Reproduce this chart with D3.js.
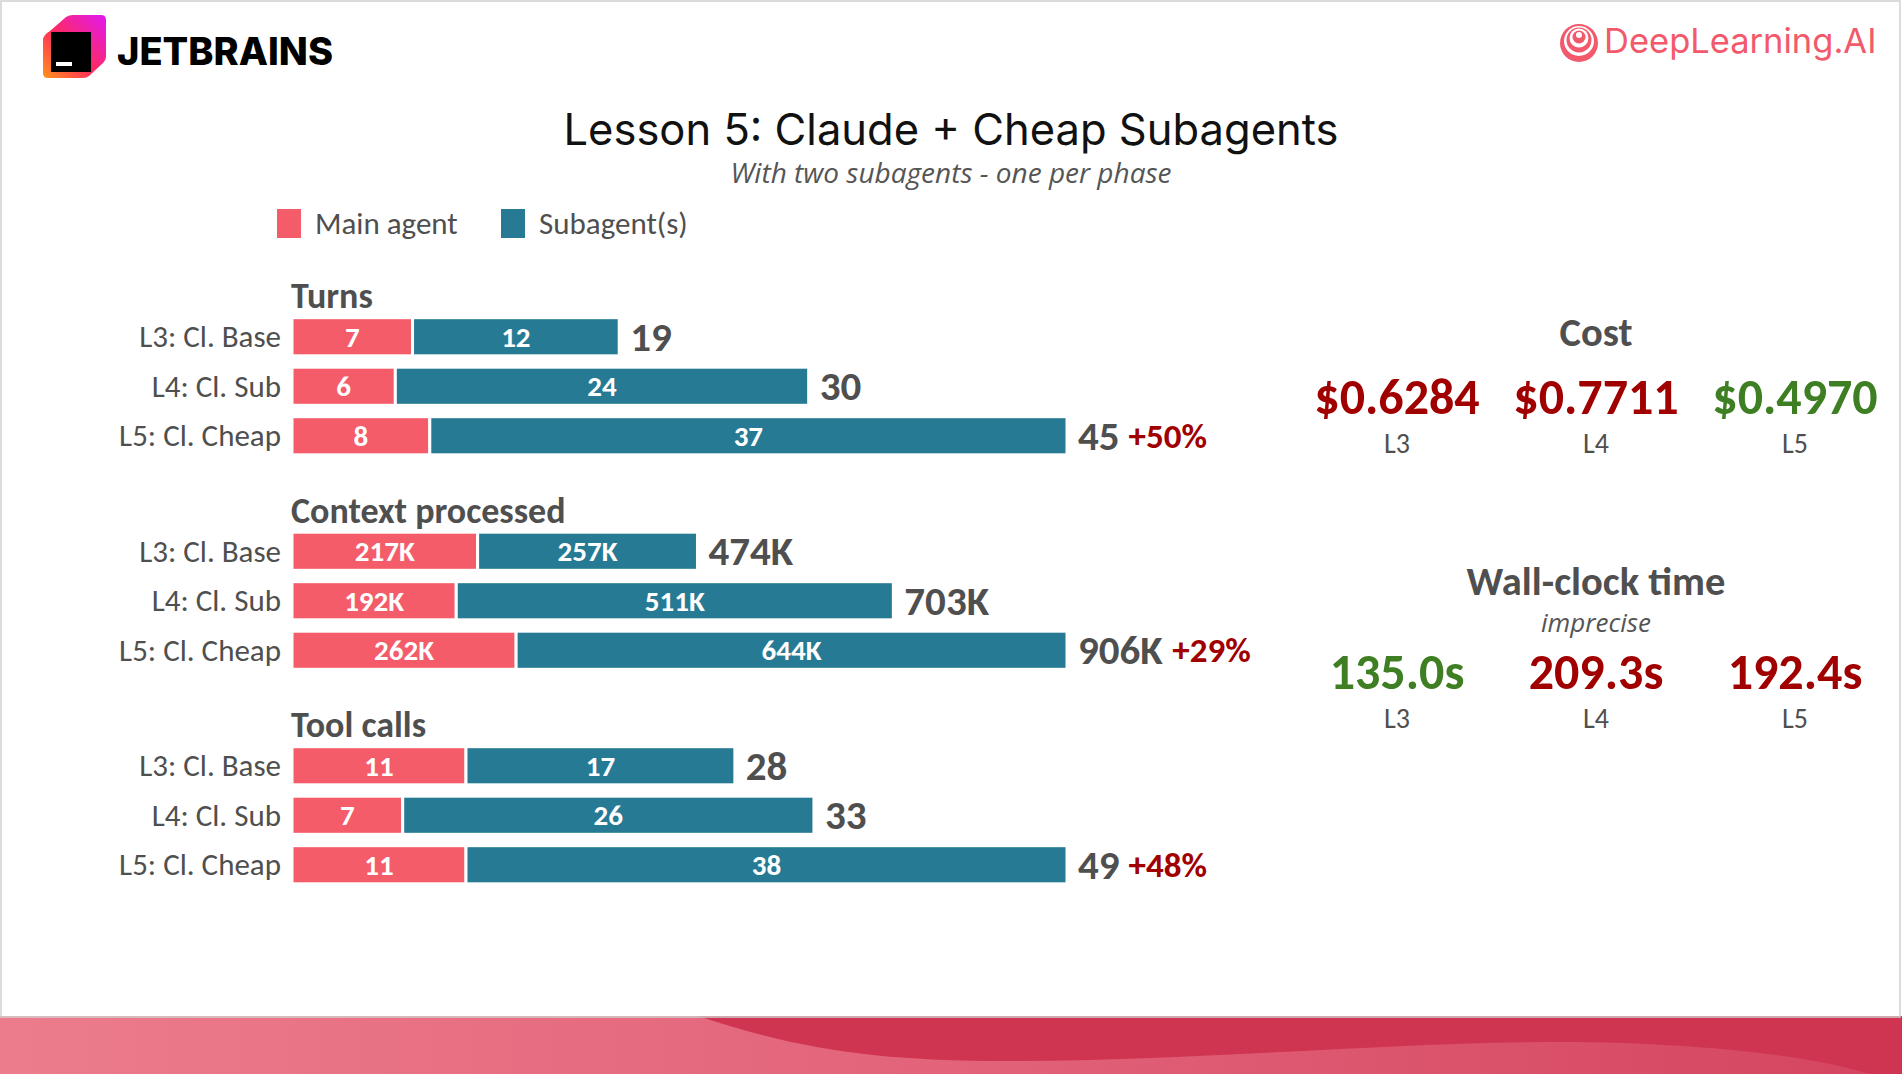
<!DOCTYPE html>
<html>
<head>
<meta charset="utf-8">
<script src="https://cdn.jsdelivr.net/npm/d3@7/dist/d3.min.js"></script>
<style>
	html, body { margin: 0; padding: 0; background: #fff; }
	svg { display: block; }
</style>
</head>
<body>
<div id="chart"></div>
<script>

// ----------------------------------
// DATA
// ----------------------------------

const metricNames = ['Turns', 'Context processed', 'Tool calls'];
const runNames = ['L3: Cl. Base', 'L4: Cl. Sub', 'L5: Cl. Cheap'];
// one inner array per metric, one value per run
const mainAgentValues = [[7, 6, 8], [217, 192, 262], [11, 7, 11]];
const subagentValues = [[12, 24, 37], [257, 511, 644], [17, 26, 38]];
const valueSuffix = ['', 'K', ''];
const changeVsBase = ['+50%', '+29%', '+48%'];

const seriesNames = ['Main agent', 'Subagent(s)'];

const lessonNames = ['L3', 'L4', 'L5'];
const costValues = [0.6284, 0.7711, 0.4970];
const wallClockSeconds = [135.0, 209.3, 192.4];


const width = 1902,
	height = 1074,
	labelFont = 'Carlito, Calibri, Lato, sans-serif',
	textGrey = '#4f4f4f',
	darkRed = '#a00000',
	green = '#3d7f22';

const colorScale = d3.scaleOrdinal()
	.domain(seriesNames)
	.range(['#f45c6a', '#267a94']);

const svg = d3.select('#chart')
	.append('svg')
	.attr('width', width)
	.attr('height', height);

// ----------------------------------
// SLIDE FRAME, LOGOS, FOOTER BAND
// ----------------------------------

svg.append('rect')
	.attr('x', 0).attr('y', 0)
	.attr('width', width).attr('height', height)
	.attr('fill', '#fff');

const defs = svg.append('defs');

const logoGrad = defs.append('linearGradient')
	.attr('id', 'jb-grad')
	.attr('x1', '0%').attr('y1', '100%')
	.attr('x2', '100%').attr('y2', '0%');
logoGrad.append('stop').attr('offset', '0%').attr('stop-color', '#ff9419');
logoGrad.append('stop').attr('offset', '45%').attr('stop-color', '#ff2a5f');
logoGrad.append('stop').attr('offset', '100%').attr('stop-color', '#e019f2');

const bandGrad = defs.append('linearGradient')
	.attr('id', 'band-grad')
	.attr('x1', '0%').attr('x2', '100%');
bandGrad.append('stop').attr('offset', '0%').attr('stop-color', '#ec7c8b');
bandGrad.append('stop').attr('offset', '50%').attr('stop-color', '#e2637a');
bandGrad.append('stop').attr('offset', '100%').attr('stop-color', '#d4455e');

// JetBrains mark
const jb = svg.append('g').attr('class', 'jetbrains');
jb.append('path')
	.attr('d', 'M50,31 L66,17 Q69,15 73,15 L101,15 Q106,15 106,20 L106,57 Q106,60 103,63 L89,76 Q87,78 83,78 L48,78 Q43,78 43,73 L43,40 Q43,35 50,31 Z')
	.attr('fill', 'url(#jb-grad)');
jb.append('rect')
	.attr('x', 51).attr('y', 32).attr('width', 40).attr('height', 40)
	.attr('fill', '#000');
jb.append('rect')
	.attr('x', 56).attr('y', 62).attr('width', 16).attr('height', 4)
	.attr('fill', '#fff');
jb.append('text')
	.attr('x', 117).attr('y', 65)
	.attr('font-family', 'Inter, Roboto, sans-serif')
	.attr('font-weight', 800)
	.attr('font-size', 38)
	.attr('fill', '#000')
	.text('JETBRAINS');

// DeepLearning.AI mark
const dl = svg.append('g').attr('class', 'deeplearning');
[[19, 0, '#f2596a'], [15, -2, '#fff'], [12.5, -3, '#f2596a'], [9.5, -5, '#fff'], [6.5, -6, '#f2596a'], [3, -8, '#fff']]
	.forEach(([r, dy, c]) => {
		dl.append('circle')
			.attr('cx', 1579).attr('cy', 43 + dy).attr('r', r)
			.attr('fill', c);
	});
dl.append('text')
	.attr('x', 1604).attr('y', 53)
	.attr('font-family', 'Inter, "Open Sans", sans-serif')
	.attr('font-size', 34.5)
	.attr('fill', '#f2596a')
	.text('DeepLearning.AI');

// footer band
svg.append('rect')
	.attr('x', 0).attr('y', 1016)
	.attr('width', width).attr('height', height - 1016)
	.attr('fill', 'url(#band-grad)');
svg.append('path')
	.attr('d', 'M698,1016 C800,1050 880,1061 1007,1061 C1200,1061 1400,1041 1577,1042 C1720,1044 1820,1058 1869,1074 L1902,1074 L1902,1016 Z')
	.attr('fill', '#cf3550');

svg.append('rect')
	.attr('x', 1).attr('y', 1)
	.attr('width', width - 3).attr('height', 1016)
	.attr('fill', 'none')
	.attr('stroke', '#d0d0d0')
	.attr('stroke-width', 1.5);

// ----------------------------------
// TITLES AND LEGEND
// ----------------------------------

svg.append('text')
	.attr('x', 951).attr('y', 145)
	.attr('text-anchor', 'middle')
	.attr('font-family', 'Inter, Poppins, sans-serif')
	.attr('font-size', 43.5)
	.attr('fill', '#111')
	.text('Lesson 5: Claude + Cheap Subagents');

svg.append('text')
	.attr('x', 951).attr('y', 183)
	.attr('text-anchor', 'middle')
	.attr('font-family', '"Open Sans", sans-serif')
	.attr('font-style', 'italic')
	.attr('font-size', 28)
	.attr('fill', '#555')
	.text('With two subagents - one per phase');

const legendX = d3.scaleOrdinal()
	.domain(seriesNames)
	.range([277, 501]);

const legend = svg.append('g')
	.attr('class', 'legend')
	.selectAll('g')
	.data(seriesNames)
	.enter()
	.append('g')
	.attr('transform', d => `translate(${legendX(d)}, 209)`);

legend.append('rect')
	.attr('width', 24).attr('height', 29)
	.attr('fill', d => colorScale(d));

legend.append('text')
	.attr('x', 38).attr('y', 25)
	.attr('font-family', labelFont)
	.attr('font-size', 31)
	.attr('fill', textGrey)
	.text(d => d);

// ----------------------------------
// STACKED BAR GROUPS
// ----------------------------------

const groupY = d3.scalePoint()
	.domain(metricNames)
	.range([312, 741]);

const rowY = d3.scaleBand()
	.domain(runNames)
	.range([0, 148.5])
	.paddingInner(0.23)
	.paddingOuter(0.115);

const barLeft = 292,
	barRight = 1067;

metricNames.forEach((metric, m) => {

	const rows = runNames.map((run, i) => {
		const main = mainAgentValues[m][i],
			sub = subagentValues[m][i];
		return {
			run: run,
			total: main + sub,
			segments: [
				{key: seriesNames[0], start: 0, value: main},
				{key: seriesNames[1], start: main, value: sub}
			]
		};
	});

	// every metric gets its own scale, longest total fills the width
	const xScale = d3.scaleLinear()
		.domain([0, d3.max(rows, d => d.total)])
		.range([barLeft, barRight]);

	const group = svg.append('g')
		.attr('class', 'metric')
		.attr('transform', `translate(0, ${groupY(metric)})`);

	group.append('text')
		.attr('x', barLeft - 1).attr('y', -4)
		.attr('font-family', labelFont)
		.attr('font-weight', 700)
		.attr('font-size', 36)
		.attr('fill', textGrey)
		.text(metric);

	const row = group.selectAll('g.row')
		.data(rows)
		.enter()
		.append('g')
		.attr('class', 'row')
		.attr('transform', d => `translate(0, ${rowY(d.run)})`);

	const bw = rowY.bandwidth();

	row.append('text')
		.attr('x', 281).attr('y', bw / 2 + 10.5)
		.attr('text-anchor', 'end')
		.attr('font-family', labelFont)
		.attr('font-size', 31)
		.attr('fill', textGrey)
		.text(d => d.run);

	const seg = row.selectAll('g.seg')
		.data(d => d.segments)
		.enter()
		.append('g')
		.attr('class', 'seg');

	seg.append('rect')
		.attr('x', d => xScale(d.start))
		.attr('y', 0)
		.attr('width', d => xScale(d.start + d.value) - xScale(d.start))
		.attr('height', bw)
		.attr('fill', d => colorScale(d.key))
		.attr('stroke', '#fff')
		.attr('stroke-width', 3);

	seg.append('text')
		.attr('x', d => (xScale(d.start) + xScale(d.start + d.value)) / 2)
		.attr('y', bw / 2 + 10)
		.attr('text-anchor', 'middle')
		.attr('font-family', labelFont)
		.attr('font-weight', 700)
		.attr('font-size', 29)
		.attr('fill', '#fff')
		.text(d => d.value + valueSuffix[m]);

	row.append('text')
		.attr('x', d => xScale(d.total) + 11)
		.attr('y', bw / 2 + 14)
		.attr('font-family', labelFont)
		.attr('font-weight', (d, i) => i === runNames.length - 1 ? 600 : 700)
		.attr('font-size', 41)
		.attr('fill', textGrey)
		.text(d => d.total + valueSuffix[m])
		.each(function(d, i) {
			if (i !== runNames.length - 1) return;
			const box = this.getBBox();
			d3.select(this.parentNode)
				.append('text')
				.attr('x', box.x + box.width + 9)
				.attr('y', bw / 2 + 12)
				.attr('font-family', labelFont)
				.attr('font-weight', 700)
				.attr('font-size', 35)
				.attr('fill', darkRed)
				.text(changeVsBase[m]);
		});
});

// ----------------------------------
// RIGHT PANEL: COST AND WALL-CLOCK
// ----------------------------------

const statX = d3.scalePoint()
	.domain(lessonNames)
	.range([1397, 1795]);

function statBlock(title, subtitle, values, format, top) {
	const best = d3.min(values);
	const block = svg.append('g')
		.attr('class', 'stat')
		.attr('transform', `translate(0, ${top})`);

	block.append('text')
		.attr('x', 1596).attr('y', 0)
		.attr('text-anchor', 'middle')
		.attr('font-family', labelFont)
		.attr('font-weight', 700)
		.attr('font-size', 40.5)
		.attr('fill', textGrey)
		.text(title);

	const offset = subtitle ? 26 : 0;
	if (subtitle) {
		block.append('text')
			.attr('x', 1596).attr('y', 37)
			.attr('text-anchor', 'middle')
			.attr('font-family', '"Open Sans", sans-serif')
			.attr('font-style', 'italic')
			.attr('font-size', 26)
			.attr('fill', '#555')
			.text(subtitle);
	}

	const cell = block.selectAll('g.cell')
		.data(values)
		.enter()
		.append('g')
		.attr('class', 'cell')
		.attr('transform', (d, i) => `translate(${statX(lessonNames[i])}, 0)`);

	cell.append('text')
		.attr('y', 68 + offset)
		.attr('text-anchor', 'middle')
		.attr('font-family', labelFont)
		.attr('font-weight', 700)
		.attr('font-size', 50)
		.attr('fill', d => d === best ? green : darkRed)
		.text(format);

	cell.append('text')
		.attr('y', 107 + offset)
		.attr('text-anchor', 'middle')
		.attr('font-family', labelFont)
		.attr('font-size', 28)
		.attr('fill', textGrey)
		.text((d, i) => lessonNames[i]);
}

statBlock('Cost', null, costValues, d => '$' + d.toFixed(4), 346);
statBlock('Wall-clock time', 'imprecise', wallClockSeconds, d => d.toFixed(1) + 's', 595);

</script>
</body>
</html>
